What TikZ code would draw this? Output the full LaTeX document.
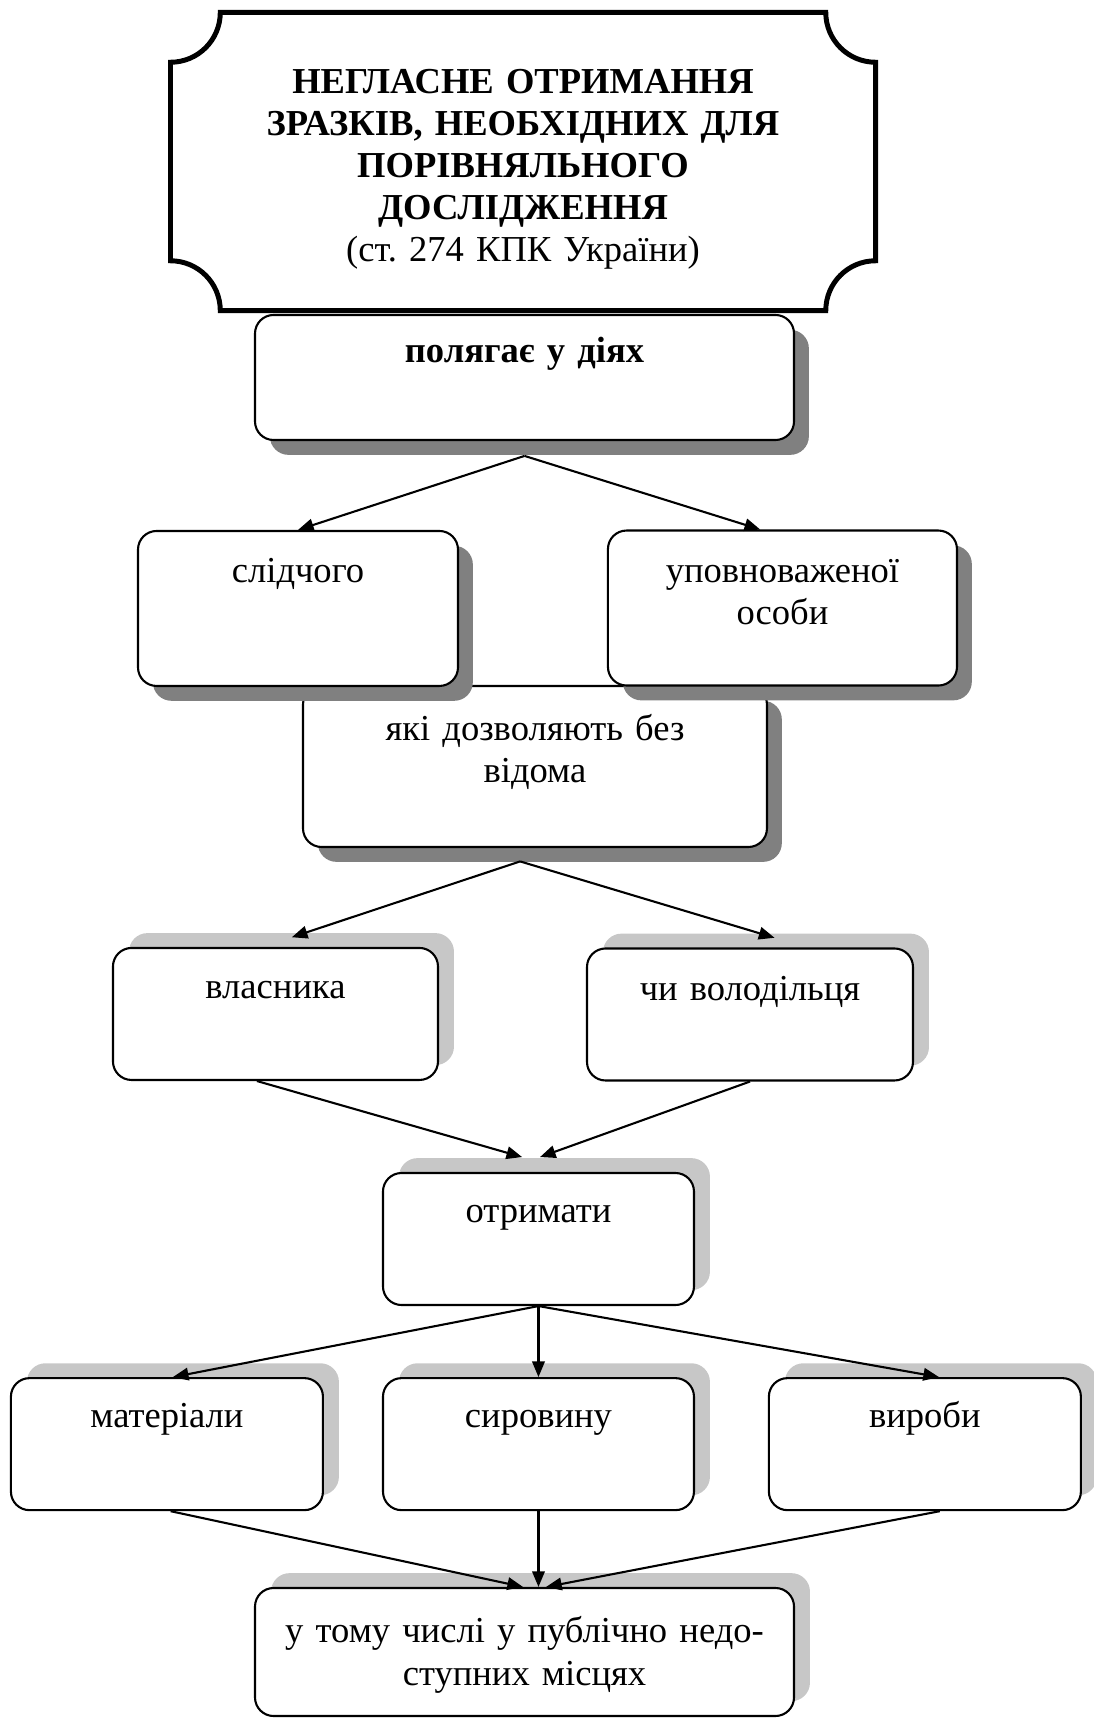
\documentclass[tikz,border=0pt]{standalone}
\usepackage{fontspec}
\setmainfont{Liberation Serif}
\usepackage{tikz}
\usetikzlibrary{arrows.meta,positioning,shadows}
\frenchspacing

\begin{document}
\begin{tikzpicture}[>={Triangle[length=6pt,width=4.8pt]},
  every node/.style={font=\fontsize{14}{16.1}\selectfont},
  stage/.style={draw,fill=white,line width=0.8pt,rounded corners=0.25cm,
    inner sep=0pt,align=center,text height=0.66cm},
  darkshadow/.style={drop shadow={shadow xshift=0.2cm,shadow yshift=-0.2cm,fill=black!50,opacity=1}},
  lightshadow/.style={drop shadow={shadow xshift=0.215cm,shadow yshift=0.2cm,fill=black!22,opacity=1}},
  link/.style={->,line width=0.8pt}]
  \useasboundingbox (0,0) rectangle (14.725,-23.138);

  % title with cut corners
  \node[inner sep=0pt,align=center,text width=9.476cm,text height=1.077cm,text depth=2.921cm]
    (title) at (7.040,-2.174)
    {\bfseries НЕГЛАСНЕ ОТРИМАННЯ\\ ЗРАЗКІВ, НЕОБХІДНИХ ДЛЯ\\ ПОРІВНЯЛЬНОГО\\ ДОСЛІДЖЕННЯ\\
     \mdseries (ст. 274 КПК України)};
  \draw[line width=1.9pt]
    ([xshift=0.67cm]title.north west) -- ([xshift=-0.67cm]title.north east)
    arc[start angle=180,end angle=270,radius=0.67cm]
    -- ([yshift=0.67cm]title.south east)
    arc[start angle=90,end angle=180,radius=0.67cm]
    -- ([xshift=0.67cm]title.south west)
    arc[start angle=0,end angle=90,radius=0.67cm]
    -- ([yshift=-0.67cm]title.north west)
    arc[start angle=270,end angle=360,radius=0.67cm] -- cycle;

  % first tiers (dark shadow)
  \node[stage,darkshadow,text width=7.255cm,text height=0.646cm,text depth=1.037cm]
    (pol) at (7.060,-5.081) {\bfseries полягає у діях};
  \node[stage,darkshadow,text width=6.245cm,text height=0.727cm,text depth=1.44cm]
    (yaki) at (7.201,-10.317) {які дозволяють без\\ відома};
  \node[stage,darkshadow,text width=4.307cm,text height=0.687cm,text depth=1.399cm]
    (slid) at (4.011,-8.190) {слідчого};
  \node[stage,darkshadow,text width=4.698cm,text height=0.70cm,text depth=1.386cm]
    (upov) at (10.532,-8.184) {уповноваженої\\ особи};

  % lower tiers (light shadow)
  \node[stage,lightshadow,text width=4.375cm,text height=0.686cm,text depth=1.091cm]
    (vlas) at (3.708,-13.648) {власника};
  \node[stage,lightshadow,text width=4.388cm,text height=0.70cm,text depth=1.077cm]
    (volod) at (10.095,-13.655) {чи володільця};
  \node[stage,lightshadow,text width=4.186cm,text depth=1.117cm]
    (otr) at (7.248,-16.677) {отримати};
  \node[stage,lightshadow,text width=4.186cm,text depth=1.117cm,below=0.956cm of otr]
    (syr) {сировину};
  \node[stage,lightshadow,text width=4.2cm,text depth=1.117cm,left=0.78cm of syr]
    (mat) {матеріали};
  \node[stage,lightshadow,text width=4.2cm,text depth=1.117cm,right=0.98cm of syr]
    (vyr) {вироби};
  \node[stage,lightshadow,text width=7.255cm,text height=0.74cm,text depth=0.983cm]
    (bot) at (7.060,-22.236) {у тому числі у публічно недо-\\ ступних місцях};

  % connectors
  \coordinate (pol-out) at ([yshift=-0.2cm]pol.south);
  \draw[link] (pol-out) -- (slid.north);
  \draw[link] (pol-out) -- ([xshift=-0.3cm]upov.north);
  \coordinate (yaki-out) at ([xshift=-0.2cm,yshift=-0.18cm]yaki.south);
  \draw[link] (yaki-out) -- ([xshift=0.22cm,yshift=0.13cm]vlas.north);
  \draw[link] (yaki-out) -- ([xshift=0.33cm,yshift=0.13cm]volod.north);
  \draw[link] ([xshift=-0.25cm]vlas.south) -- ([xshift=-0.22cm,yshift=0.2cm]otr.north);
  \draw[link] (volod.south) -- ([xshift=0.02cm,yshift=0.2cm]otr.north);
  \draw[link] (otr.south) -- ([xshift=0.08cm]mat.north);
  \draw[link] (otr.south) -- (syr.north);
  \draw[link] (otr.south) -- ([xshift=0.19cm]vyr.north);
  \draw[link] ([xshift=0.05cm]mat.south) -- ([xshift=-0.02cm]bot.north);
  \draw[link] (syr.south) -- (syr.south |- bot.north);
  \draw[link] ([xshift=0.2cm]vyr.south) -- ([xshift=0.29cm]bot.north);
\end{tikzpicture}
\end{document}
